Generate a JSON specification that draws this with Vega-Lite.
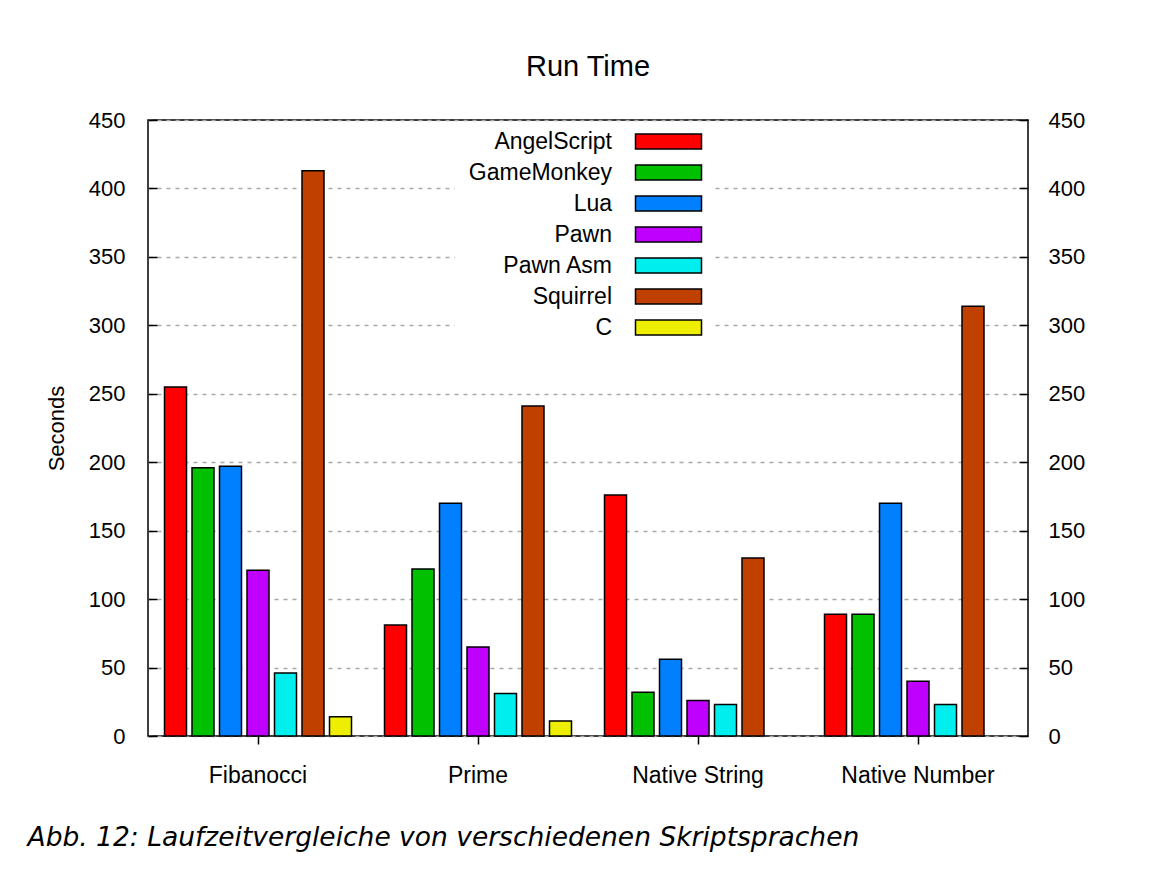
{
  "$schema": "https://vega.github.io/schema/vega-lite/v6.json",
  "width": 880,
  "height": 616,
  "autosize": "none",
  "padding": {"left": 148, "top": 120, "right": 124, "bottom": 138},
  "background": "white",
  "title": {
    "text": "Run Time",
    "font": "Liberation Sans",
    "fontSize": 29,
    "fontWeight": "normal",
    "color": "black",
    "anchor": "middle",
    "baseline": "alphabetic",
    "offset": 4
  },
  "data": {
    "values": [
      {"benchmark": "Fibanocci", "lang": "AngelScript", "seconds": 255},
      {"benchmark": "Fibanocci", "lang": "GameMonkey", "seconds": 196},
      {"benchmark": "Fibanocci", "lang": "Lua", "seconds": 197},
      {"benchmark": "Fibanocci", "lang": "Pawn", "seconds": 121},
      {"benchmark": "Fibanocci", "lang": "Pawn Asm", "seconds": 46},
      {"benchmark": "Fibanocci", "lang": "Squirrel", "seconds": 413},
      {"benchmark": "Fibanocci", "lang": "C", "seconds": 14},
      {"benchmark": "Prime", "lang": "AngelScript", "seconds": 81},
      {"benchmark": "Prime", "lang": "GameMonkey", "seconds": 122},
      {"benchmark": "Prime", "lang": "Lua", "seconds": 170},
      {"benchmark": "Prime", "lang": "Pawn", "seconds": 65},
      {"benchmark": "Prime", "lang": "Pawn Asm", "seconds": 31},
      {"benchmark": "Prime", "lang": "Squirrel", "seconds": 241},
      {"benchmark": "Prime", "lang": "C", "seconds": 11},
      {"benchmark": "Native String", "lang": "AngelScript", "seconds": 176},
      {"benchmark": "Native String", "lang": "GameMonkey", "seconds": 32},
      {"benchmark": "Native String", "lang": "Lua", "seconds": 56},
      {"benchmark": "Native String", "lang": "Pawn", "seconds": 26},
      {"benchmark": "Native String", "lang": "Pawn Asm", "seconds": 23},
      {"benchmark": "Native String", "lang": "Squirrel", "seconds": 130},
      {"benchmark": "Native Number", "lang": "AngelScript", "seconds": 89},
      {"benchmark": "Native Number", "lang": "GameMonkey", "seconds": 89},
      {"benchmark": "Native Number", "lang": "Lua", "seconds": 170},
      {"benchmark": "Native Number", "lang": "Pawn", "seconds": 40},
      {"benchmark": "Native Number", "lang": "Pawn Asm", "seconds": 23},
      {"benchmark": "Native Number", "lang": "Squirrel", "seconds": 314}
    ]
  },
  "layer": [
    {
      "mark": {"type": "bar", "stroke": "black", "strokeWidth": 1.5, "strokeOpacity": 1},
      "encoding": {
        "x": {
          "field": "benchmark",
          "type": "nominal",
          "sort": ["Fibanocci", "Prime", "Native String", "Native Number"],
          "scale": {"paddingInner": 0, "paddingOuter": 0},
          "axis": {
            "domain": false,
            "ticks": true,
            "tickSize": 8,
            "tickColor": "black",
            "tickWidth": 1.5,
            "labelAngle": 0,
            "labelFont": "Liberation Sans",
            "labelFontSize": 23,
            "labelColor": "black",
            "labelPadding": 20,
            "title": "Abb. 12: Laufzeitvergleiche von verschiedenen Skriptsprachen",
            "titleFont": "DejaVu Sans",
            "titleFontStyle": "italic",
            "titleFontWeight": "normal",
            "titleFontSize": 26.5,
            "titleColor": "black",
            "titleAnchor": "start",
            "titleAlign": "left",
            "titleBaseline": "alphabetic",
            "titleX": -121,
            "titleY": 109
          }
        },
        "xOffset": {
          "field": "lang",
          "type": "nominal",
          "sort": ["AngelScript", "GameMonkey", "Lua", "Pawn", "Pawn Asm", "Squirrel", "C"],
          "scale": {"paddingInner": 0.2, "paddingOuter": 0.6}
        },
        "y": {
          "field": "seconds",
          "type": "quantitative",
          "scale": {"domain": [0, 450], "nice": false, "zero": true},
          "axis": {
            "orient": "left",
            "values": [0, 50, 100, 150, 200, 250, 300, 350, 400, 450],
            "domain": false,
            "grid": true,
            "gridColor": "#a8a8a8",
            "gridDash": [4, 5],
            "gridWidth": 1.5,
            "ticks": true,
            "tickSize": -9,
            "tickColor": "black",
            "tickWidth": 1.5,
            "labelFont": "Liberation Sans",
            "labelFontSize": 22,
            "labelColor": "black",
            "labelPadding": 32,
            "title": "Seconds",
            "titleFont": "Liberation Sans",
            "titleFontSize": 22,
            "titleFontWeight": "normal",
            "titleColor": "black",
            "titleX": -92,
            "titleY": 308,
            "titleAngle": -90,
            "titleAlign": "center",
            "titleBaseline": "middle"
          }
        },
        "color": {
          "field": "lang",
          "type": "nominal",
          "scale": {
            "domain": ["AngelScript", "GameMonkey", "Lua", "Pawn", "Pawn Asm", "Squirrel", "C"],
            "range": ["#ff0000", "#00c000", "#0080ff", "#c000ff", "#00eeee", "#c04000", "#eeee00"]
          },
          "legend": {
            "orient": "none",
            "legendX": 307,
            "legendY": 2,
            "title": null,
            "fillColor": "white",
            "padding": 8,
            "symbolType": "M-4.4,-1H4.4V1H-4.4Z",
            "symbolSize": 225,
            "symbolStrokeColor": "black",
            "symbolStrokeWidth": 1.5,
            "symbolOpacity": 1,
            "symbolOffset": 194,
            "labelOffset": -68,
            "labelAlign": "right",
            "labelFont": "Liberation Sans",
            "labelFontSize": 23,
            "labelColor": "black",
            "labelLimit": 300,
            "rowPadding": 7
          }
        }
      }
    },
    {
      "mark": {"type": "point", "opacity": 0},
      "encoding": {
        "y": {
          "field": "seconds",
          "type": "quantitative",
          "axis": {
            "orient": "right",
            "values": [0, 50, 100, 150, 200, 250, 300, 350, 400, 450],
            "domain": false,
            "grid": false,
            "ticks": true,
            "tickSize": -9,
            "tickColor": "black",
            "tickWidth": 1.5,
            "labelFont": "Liberation Sans",
            "labelFontSize": 22,
            "labelColor": "black",
            "labelPadding": 29,
            "title": null
          }
        }
      }
    }
  ],
  "resolve": {"axis": {"y": "independent"}},
  "config": {"view": {"stroke": "black", "strokeWidth": 1.5}}
}
